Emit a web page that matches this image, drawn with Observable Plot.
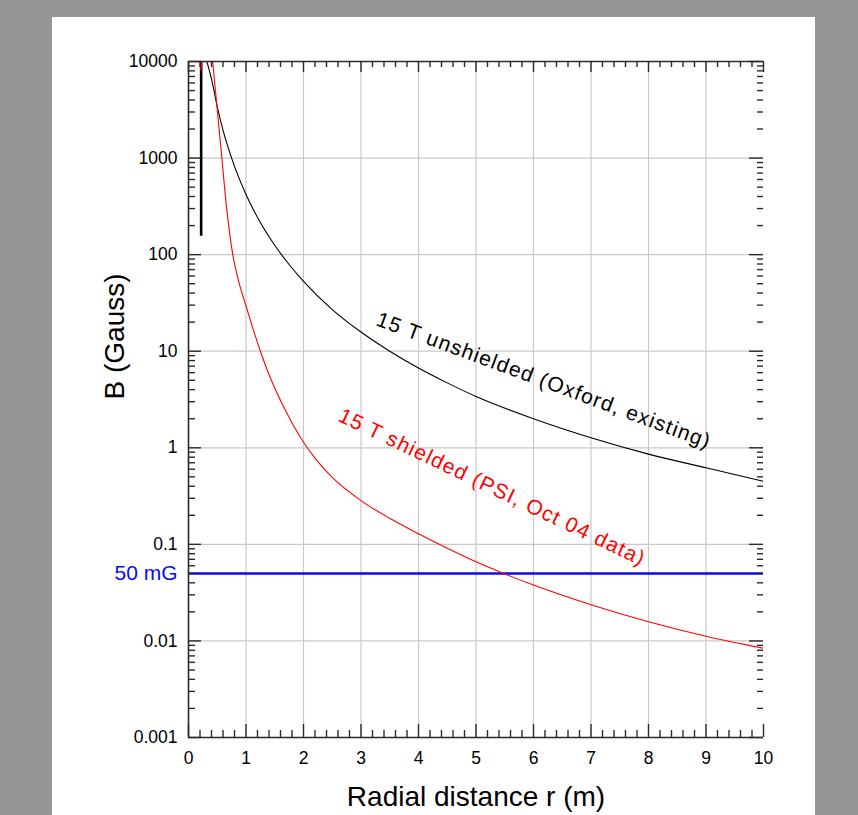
<!DOCTYPE html>
<html>
<head>
<meta charset="utf-8">
<script src="https://cdn.jsdelivr.net/npm/d3@7"></script>
<script src="https://cdn.jsdelivr.net/npm/@observablehq/plot@0.6"></script>
<style>
  html, body { margin: 0; padding: 0; background: #969696; }
  #wrap { position: relative; width: 858px; height: 815px; background: #969696; overflow: hidden; }
  #panel { position: absolute; left: 52px; top: 17px; width: 763px; height: 798px; background: #ffffff; }
  #chart { position: absolute; left: 0; top: 0; }
</style>
</head>
<body>
<div id="wrap"><div id="panel"></div><div id="chart"></div></div>
<script>
// ---- Data ----
const unshieldedR = [0.32, 0.4, 0.5, 0.6, 0.75, 1, 1.25, 1.5, 1.75, 2, 2.5, 3, 3.5, 4, 4.5, 5, 6, 7, 8, 9, 10];
const unshieldedB = [10000, 6600, 3400, 1950, 1000, 420, 215, 125, 79, 53, 27, 15.8, 10, 6.7, 4.7, 3.4, 2.0, 1.27, 0.86, 0.62, 0.45];

const shieldedR = [0.42, 0.5, 0.58, 0.66, 0.77, 0.85, 1.02, 1.25, 1.4, 1.66, 1.95, 2.2, 2.5, 3, 3.5, 4, 4.5, 5, 5.5, 6, 7, 8, 9, 10];
const shieldedB = [10000, 3200, 1000, 316, 100, 60, 27, 10, 5.75, 2.61, 1.27, 0.78, 0.494, 0.284, 0.186, 0.1285, 0.091, 0.0659, 0.0494, 0.0379, 0.0237, 0.0158, 0.0112, 0.0084];

const limitValue = 0.05;           // 50 mG line
const limitLabel = "50 mG";
const markerR = 0.22;              // vertical black bar near the magnet
const markerB = [155, 10000];
const markerRedB = [8000, 10000];

const xTicks = [0, 1, 2, 3, 4, 5, 6, 7, 8, 9, 10];
const yTicks = [0.001, 0.01, 0.1, 1, 10, 100, 1000, 10000];
const yTickLabels = ["0.001", "0.01", "0.1", "1", "10", "100", "1000", "10000"];
const xGrid = [1, 2, 3, 4, 5, 6, 7, 8, 9];
const yGrid = [0.01, 0.1, 1, 10, 100, 1000];

const curveLabels = ["15 T unshielded (Oxford, existing)", "15 T shielded (PSI, Oct 04 data)"];
const curveLabelX = [6.18, 5.28];
const curveLabelY = [4.97, 0.39];
const curveLabelAngle = [20.4, 25.6];
const curveColors = ["#000000", "#ff0000"];

const xTitle = "Radial distance r (m)";
const yTitle = "B (Gauss)";

// ---- derived tables ----
const unshielded = unshieldedR.map((r, i) => ({r, b: unshieldedB[i]}));
const shielded = shieldedR.map((r, i) => ({r, b: shieldedB[i]}));
const xMinor = d3.range(1, 50).map(i => i / 5).filter(v => Math.abs(v - Math.round(v)) > 1e-9);
const yMinor = yTicks.slice(0, -1).flatMap(d => d3.range(2, 10).map(k => +(d * k).toPrecision(3)));
const labels = curveLabels.map((t, i) => ({t, x: curveLabelX[i], y: curveLabelY[i], a: curveLabelAngle[i], c: curveColors[i]}));

const W = 858, H = 815;
const mL = 188, mR = 95, mT = 61, mB = 78;
const fw = W - mL - mR, fh = H - mT - mB;
const axisColor = "#2a2a2a";
const font = "'Liberation Sans', Arial, Helvetica, sans-serif";

const chart = Plot.plot({
  width: W,
  height: H,
  marginLeft: mL,
  marginRight: mR,
  marginTop: mT,
  marginBottom: mB,
  style: {background: "transparent", fontFamily: font, overflow: "visible"},
  x: {type: "linear", domain: [0, 10], axis: null},
  y: {type: "log", domain: [0.001, 10000], axis: null},
  marks: [
    // grid
    Plot.ruleX(xGrid, {stroke: "#c8c8c8", strokeWidth: 1.2}),
    Plot.ruleY(yGrid, {stroke: "#c8c8c8", strokeWidth: 1.2}),
    // 50 mG line
    Plot.ruleY([limitValue], {stroke: "#0a0af0", strokeWidth: 2.6}),
    // curves
    Plot.line(unshielded, {x: "r", y: "b", stroke: "#000000", strokeWidth: 1.1, curve: "monotone-x", clip: true}),
    Plot.line(shielded, {x: "r", y: "b", stroke: "#ff0000", strokeWidth: 1.1, curve: "monotone-x", clip: true}),
    // vertical marker bar
    Plot.ruleX([markerR], {y1: markerB[0], y2: markerB[1], stroke: "#000000", strokeWidth: 2.6}),
    Plot.ruleX([markerR], {y1: markerRedB[0], y2: markerRedB[1], stroke: "#cc0000", strokeWidth: 2}),
    // axis lines (left, bottom, top)
    Plot.ruleX([0], {stroke: axisColor, strokeWidth: 1.6}),
    Plot.ruleY([0.001], {stroke: axisColor, strokeWidth: 1.6}),
    Plot.ruleY([10000], {stroke: axisColor, strokeWidth: 1.6}),
    // left ticks
    Plot.tickY(yTicks, {stroke: axisColor, strokeWidth: 1.4, insetRight: fw - 13}),
    Plot.tickY(yMinor, {stroke: axisColor, strokeWidth: 1.4, insetRight: fw - 7}),
    // right ticks
    Plot.tickY(yTicks, {stroke: axisColor, strokeWidth: 1.4, insetLeft: fw - 14}),
    Plot.tickY(yMinor, {stroke: axisColor, strokeWidth: 1.4, insetLeft: fw - 6}),
    // bottom ticks
    Plot.tickX(xTicks, {stroke: axisColor, strokeWidth: 1.4, insetTop: fh - 13}),
    Plot.tickX(xMinor, {stroke: axisColor, strokeWidth: 1.4, insetTop: fh - 7}),
    // top ticks
    Plot.tickX(xTicks, {stroke: axisColor, strokeWidth: 1.4, insetBottom: fh - 11}),
    Plot.tickX(xMinor, {stroke: axisColor, strokeWidth: 1.4, insetBottom: fh - 6}),
    // tick labels
    Plot.text(yTicks, {x: 0, y: d => d, text: (d, i) => yTickLabels[i], textAnchor: "end", dx: -11, fontSize: 17.5, fill: "#000"}),
    Plot.text(xTicks, {x: d => d, frameAnchor: "bottom", text: d => String(d), dy: 21, fontSize: 17.5, fill: "#000", lineAnchor: "middle"}),
    // 50 mG label
    Plot.text([limitLabel], {x: 0, y: limitValue, text: d => d, textAnchor: "end", dx: -11, fontSize: 21, fill: "#0a0af0"}),
    // curve labels
    Plot.text(labels, {x: "x", y: "y", text: "t", rotate: "a", fill: "c", fontSize: 21, textAnchor: "middle", lineAnchor: "middle"}),
    // axis titles
    Plot.text([xTitle], {frameAnchor: "bottom", text: d => d, dy: 60, fontSize: 28, fill: "#000", lineAnchor: "middle"}),
    Plot.text([yTitle], {frameAnchor: "left", text: d => d, dx: -73, rotate: -90, fontSize: 28, fill: "#000", lineAnchor: "middle"})
  ]
});

// slight letter spacing on curve labels (original font is a bit wider)
d3.select(chart).selectAll("text").filter(function () {
  return curveLabels.includes(this.textContent);
}).attr("letter-spacing", "1.2px");

document.getElementById("chart").appendChild(chart);
</script>
</body>
</html>
